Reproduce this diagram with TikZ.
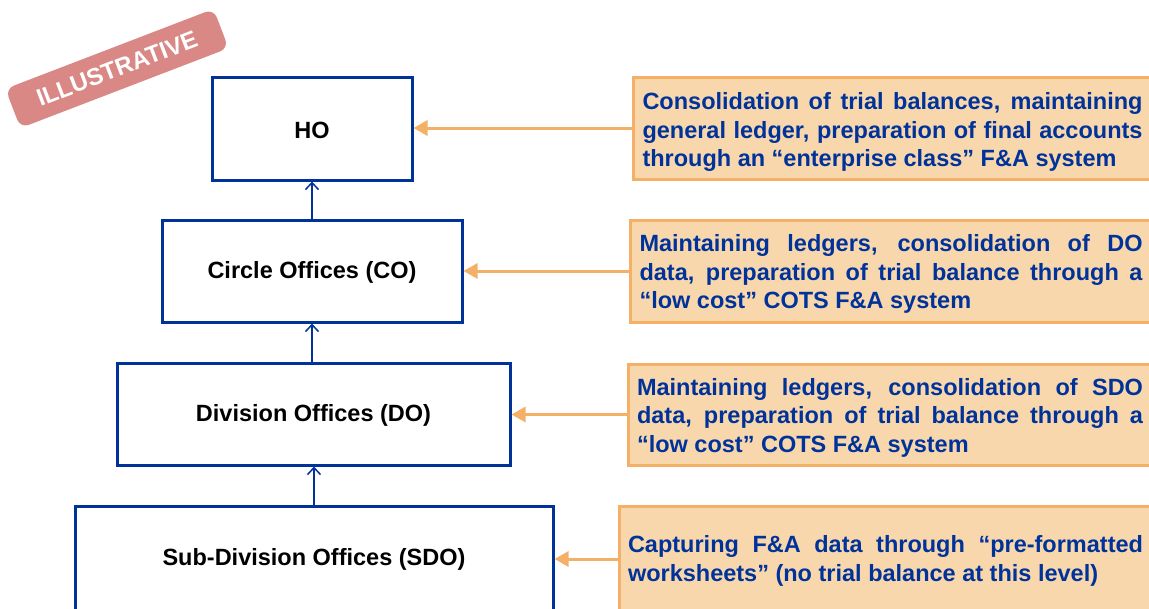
\documentclass[tikz,border=0pt]{standalone}
\usepackage{fontspec}
\setmainfont{Liberation Sans}
\usetikzlibrary{arrows.meta}
\definecolor{bblue}{HTML}{003399}
\definecolor{oline}{HTML}{F4B066}
\definecolor{ofill}{HTML}{F9D7AD}
\definecolor{stampred}{HTML}{D98885}
\newcommand\nohyph{\hyphenpenalty 10000\exhyphenpenalty 10000\emergencystretch 20pt\relax}
\tikzset{
  bluebox/.style={draw=bblue, line width=3pt, fill=white, inner sep=0pt},
  bluetext/.style={inner sep=0pt, font=\bfseries\fontsize{23.5}{28.5}\selectfont, text=black},
  orangebox/.style={draw=oline, line width=3pt, fill=ofill, inner sep=0pt},
  orangetext/.style={inner sep=0pt,
    font=\bfseries\fontsize{23.5}{28.5}\selectfont\nohyph,
    text=bblue, align=justify},
  oarrow/.style={draw=oline, line width=3pt, -{Triangle[length=14pt,width=15pt]}},
  barrow/.style={draw=bblue, line width=1.5pt, -{Straight Barb[length=7pt,width=13pt]}},
}
\begin{document}
\begin{tikzpicture}[x=1pt,y=-1pt]
\useasboundingbox (0,0) rectangle (1149,608);
\clip (0,0) rectangle (1149,608);
% blue boxes
\node[bluebox, minimum width=200pt, minimum height=103pt] (ho) at (312,128.5) {};
\node[bluebox, minimum width=300pt, minimum height=102pt] (co) at (312,271) {};
\node[bluebox, minimum width=393pt, minimum height=102pt] (do) at (313.5,414) {};
\node[bluebox, minimum width=478pt, minimum height=104pt] (sdo) at (314,558) {};
\node[bluetext] (hot) at ([yshift=-2pt]ho.center) {HO};
\node[bluetext] (cot) at ([yshift=-1pt]co.center) {Circle Offices (CO)};
\node[bluetext] (dot) at ([yshift=-1pt]do.center) {Division Offices (DO)};
\node[bluetext] (sdot) at ([yshift=-1pt]sdo.center) {Sub-Division Offices (SDO)};
% orange boxes
\node[orangebox, minimum width=519pt, minimum height=102pt] (o1) at (892.5,128) {};
\node[orangebox, minimum width=522pt, minimum height=102pt] (o2) at (891,271) {};
\node[orangebox, minimum width=524pt, minimum height=101pt] (o3) at (890,414.5) {};
\node[orangebox, minimum width=533pt, minimum height=106pt] (o4) at (885.5,559) {};
\node[orangetext, text width=500pt] (t1) at ([yshift=-4pt]o1.center)
 {Consolidation of trial balances, maintaining\linebreak general ledger, preparation of final accounts\linebreak through an “enterprise class” F\&A system};
\node[orangetext, text width=503pt] (t2) at ([yshift=-3pt]o2.center)
 {Maintaining ledgers, consolidation of DO\linebreak data, preparation of trial balance through a\linebreak “low cost” COTS F\&A system};
\node[orangetext, text width=506pt] (t3) at ([yshift=-3pt]o3.center)
 {Maintaining ledgers, consolidation of SDO\linebreak data, preparation of trial balance through a\linebreak “low cost” COTS F\&A system};
\node[orangetext, text width=515pt] (t4) at ([yshift=-2pt]o4.center)
 {Capturing F\&A data through “pre-formatted\linebreak worksheets” (no trial balance at this level)};
% orange arrows
\draw[oarrow] (o1.west) -- (ho.east |- o1.west);
\draw[oarrow] (o2.west) -- (co.east |- o2.west);
\draw[oarrow] (o3.west) -- (do.east |- o3.west);
\draw[oarrow] (o4.west) -- (sdo.east |- o4.west);
% blue arrows
\draw[barrow] (co.north) -- (ho.south);
\draw[barrow] (do.north -| co.north) -- (co.south);
\draw[barrow] (sdo.north) -- (do.south -| sdo.north);
% stamp
\node[rotate=21, fill=stampred, rounded corners=9pt, minimum width=223pt, minimum height=42pt,
  text=white, font=\bfseries\fontsize{24}{24}\selectfont] (stamp) at (117,68.5) {ILLUSTRATIVE};
\end{tikzpicture}
\end{document}
